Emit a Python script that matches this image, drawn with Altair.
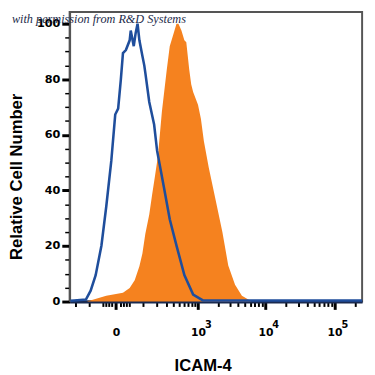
import altair as alt
import pandas as pd

# Isotype control (blue outline)
blue_x = [-250, -212, -121, -93, -68, -44, -27, -12, -2, 5, 12, 18, 27, 40, 44, 56, 64, 73, 82,
          98, 109, 115, 141, 178, 204, 273, 347, 452, 608, 838, 1185, 250000]
blue_y = [0.3, 0.4, 0.7, 3.9, 9.5, 20.1, 34.2, 50.7, 67.3, 69.4, 79.9, 89.4, 90.5, 94.0, 97.5, 91.9,
          96.5, 100, 94, 88.4, 84.9, 82.4, 71.8, 63.7, 54.2, 41.2, 29.6, 20.1, 9.5, 2.5, 0.4, 0.4]

# ICAM-4 stained (orange filled)
orange_x = [-115, -27, 18, 40, 60, 82, 98, 115, 141, 162, 186, 212, 251, 308, 347, 404, 452, 487,
            545, 608, 653, 727, 781, 838, 997, 1105, 1228, 1455, 1844, 2330, 2848, 3587, 4523, 6285]
orange_y = [0, 2.1, 3.2, 4.9, 7.7, 12.7, 17.3, 24.3, 31.3, 38.4, 45.4, 52.5, 68.3, 83.5, 91.9, 96.5,
            100, 100, 97.5, 94, 93.3, 83.5, 78.2, 75.4, 70.8, 65.8, 57.7, 48.2, 36.6, 25, 13, 6, 2.1, 0]

x_major = [0, 1000, 10000, 100000]
x_minor = [-200, -100, -40, -30, -20, -10, 10, 20, 30, 40,
           100, 200, 300, 400, 500, 600, 700, 800, 900,
           2000, 3000, 4000, 5000, 6000, 7000, 8000, 9000,
           20000, 30000, 40000, 50000, 60000, 70000, 80000, 90000, 200000]
x_labels = {0: "0", 1000: "10", 10000: "10", 100000: "10"}
sup_x = [1000, 10000, 100000]
sup_text = ["3", "4", "5"]
y_ticks = list(range(0, 101, 5))

watermark = "with permission from R&D Systems"

blue = pd.DataFrame({"x": blue_x, "y": blue_y})
orange = pd.DataFrame({"x": orange_x, "y": orange_y})
sups = pd.DataFrame({"x": sup_x, "s": sup_text})

label_expr = " : ".join(
    [f"datum.value == {k} ? '{v}'" for k, v in x_labels.items()]) + " : ''"
major_test = " || ".join([f"datum.value == {k}" for k in x_major])

xscale = alt.Scale(type="symlog", constant=70, domain=[-258, 250000], nice=False)
yscale = alt.Scale(domain=[0, 104.2], nice=False, zero=True)

xaxis = alt.Axis(
    values=sorted(x_major + x_minor), labelExpr=label_expr, grid=False,
    labelOverlap=False, labelFlush=False,
    tickColor="black",
    tickSize={"condition": {"test": major_test, "value": 8}, "value": 5},
    tickWidth={"condition": {"test": major_test, "value": 3}, "value": 2},
    labelPadding=18, labelFont="DejaVu Sans", labelFontWeight="bold", labelFontSize=11,
    labelColor="black",
    domainColor="#1a2a50", domainWidth=3,
    title="ICAM-4", titleFont="Liberation Sans", titleFontWeight="bold", titleFontSize=17,
    titleColor="black", titleX=136, titleY=57,
)
yaxis = alt.Axis(
    values=y_ticks, labelExpr="datum.value % 20 == 0 ? datum.label : ''", grid=False,
    labelOverlap=False, labelFlush=False,
    tickColor="black",
    tickSize={"condition": {"test": "datum.value % 20 == 0", "value": 8}, "value": 5},
    tickWidth={"condition": {"test": "datum.value % 20 == 0", "value": 3}, "value": 1.5},
    labelPadding=2, labelFont="DejaVu Sans", labelFontWeight="bold", labelFontSize=11.5,
    labelColor="black",
    domainColor="#555555", domainWidth=2,
    title="Relative Cell Number", titleFont="Liberation Sans", titleFontWeight="bold",
    titleFontSize=17, titleColor="black", titleX=-49, titleY=168,
    titleBaseline="alphabetic",
)

area = alt.Chart(orange).mark_area(color="#F5821F", opacity=1, interpolate="linear").encode(
    x=alt.X("x:Q", scale=xscale, axis=xaxis),
    y=alt.Y("y:Q", scale=yscale, axis=yaxis),
)
line = alt.Chart(blue).mark_line(color="#1F4E9C", strokeWidth=2.6, interpolate="linear").encode(
    x=alt.X("x:Q", scale=xscale, axis=xaxis),
    y=alt.Y("y:Q", scale=yscale, axis=yaxis),
)
sup = alt.Chart(sups).mark_text(
    align="left", baseline="alphabetic", font="DejaVu Sans", fontWeight="bold",
    fontSize=10, color="black", dx=7,
).encode(x=alt.X("x:Q", scale=xscale, axis=xaxis), y=alt.value(323), text="s:N")
text = alt.Chart(pd.DataFrame({"t": [watermark]})).mark_text(
    align="left", baseline="alphabetic", font="Liberation Serif", fontStyle="italic",
    fontSize=12.5, color="#1c2b4a",
).encode(text="t:N", x=alt.value(-59), y=alt.value(11))

chart = alt.layer(area, line, sup, text).properties(
    width=299, height=296,
    autosize=alt.AutoSizeParams(type="none"),
    padding={"left": 63, "top": 0, "right": 5, "bottom": 70},
).configure_view(stroke="#555555", strokeWidth=2)

chart.save("out.html", embed_options={"renderer": "svg", "actions": False})
